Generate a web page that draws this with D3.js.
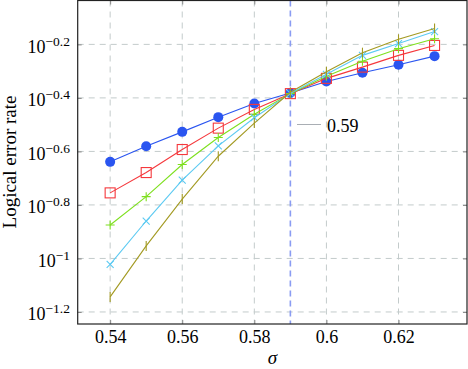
<!DOCTYPE html>
<html>
<head>
<meta charset="utf-8">
<script src="https://cdn.jsdelivr.net/npm/d3@7"></script>
<style>
  body { margin: 0; background: #fff; }
</style>
</head>
<body>
<svg></svg>
<script>
const width = 468;
const height = 369;
const margin = { left: 77.7, right: 1, top: 0.5, bottom: 45 };
const serif = "'Liberation Serif', 'Times New Roman', serif";

// sigma values
const sigma = [0.54, 0.55, 0.56, 0.57, 0.58, 0.59, 0.60, 0.61, 0.62, 0.63];

// logical error rates for each series
const blueVals  = [0.2296, 0.2624, 0.2972, 0.3373, 0.3793, 0.4150, 0.4581, 0.4943, 0.5297, 0.5702];
const redVals   = [0.1758, 0.2094, 0.2553, 0.3069, 0.3606, 0.4130, 0.4710, 0.5188, 0.5741, 0.6252];
const greenVals = [0.1334, 0.1702, 0.2244, 0.2831, 0.3459, 0.4130, 0.4797, 0.5458, 0.6081, 0.6622];
const cyanVals  = [0.0951, 0.1380, 0.1963, 0.2636, 0.3357, 0.4140, 0.4875, 0.5741, 0.6353, 0.7047];
const oliveVals = [0.0718, 0.1114, 0.1667, 0.2410, 0.3206, 0.4178, 0.4989, 0.5875, 0.6592, 0.7228];

const xTicks = [0.54, 0.56, 0.58, 0.6, 0.62];
const xTickLabels = ["0.54", "0.56", "0.58", "0.6", "0.62"];
const yTickExp = [-0.2, -0.4, -0.6, -0.8, -1, -1.2];
const yTickLabels = ["\u22120.2", "\u22120.4", "\u22120.6", "\u22120.8", "\u22121", "\u22121.2"];

const threshold = 0.59;
const legendLabel = "0.59";

const series = [
  { vals: blueVals,  color: "#2a55f0", marker: "circle" },
  { vals: redVals,   color: "#f5383c", marker: "square" },
  { vals: greenVals, color: "#7ee01e", marker: "plus" },
  { vals: cyanVals,  color: "#5ccaf2", marker: "cross" },
  { vals: oliveVals, color: "#a39a22", marker: "bar" }
];

const svg = d3.select("svg").attr("width", width).attr("height", height)
  .attr("font-family", serif);

const x = d3.scaleLinear()
  .domain([0.531, 0.639])
  .range([margin.left, width - margin.right]);

const y = d3.scaleLog()
  .domain([Math.pow(10, -1.245), Math.pow(10, -0.036)])
  .range([height - margin.bottom, margin.top]);

const plotTop = margin.top;
const plotBottom = height - margin.bottom;
const plotLeft = margin.left;
const plotRight = width - margin.right;

// grid
const grid = svg.append("g");
grid.selectAll(".vg").data(xTicks).enter().append("line")
  .attr("x1", d => x(d)).attr("x2", d => x(d))
  .attr("y1", plotTop).attr("y2", plotBottom)
  .attr("stroke", "#c3cbcb").attr("stroke-width", 1).attr("stroke-dasharray", "6,5");
grid.selectAll(".hg").data(yTickExp).enter().append("line")
  .attr("x1", plotLeft).attr("x2", plotRight)
  .attr("y1", d => y(Math.pow(10, d))).attr("y2", d => y(Math.pow(10, d)))
  .attr("stroke", "#c3cbcb").attr("stroke-width", 1).attr("stroke-dasharray", "6,5");

// axes
const xAxis = d3.axisBottom(x).tickValues(xTicks).tickSize(-4)
  .tickFormat((d, i) => xTickLabels[i]);
const gx = svg.append("g").attr("transform", "translate(0," + plotBottom + ")").call(xAxis)
  .attr("font-family", serif).attr("font-size", 18);
gx.select(".domain").remove();
gx.selectAll("line").attr("stroke", "#888");
gx.selectAll("text").attr("dy", "0.9em").attr("fill", "#000");

const xAxisTop = d3.axisTop(x).tickValues(xTicks).tickSize(-4).tickFormat("");
const gxt = svg.append("g").attr("transform", "translate(0," + plotTop + ")").call(xAxisTop);
gxt.select(".domain").remove();
gxt.selectAll("line").attr("stroke", "#888");

const yAxis = d3.axisLeft(y).tickValues(yTickExp.map(e => Math.pow(10, e))).tickSize(-4).tickFormat("");
const gy = svg.append("g").attr("transform", "translate(" + plotLeft + ",0)").call(yAxis);
gy.select(".domain").remove();
gy.selectAll("line").attr("stroke", "#888");

const yAxisR = d3.axisRight(y).tickValues(yTickExp.map(e => Math.pow(10, e))).tickSize(-4).tickFormat("");
const gyr = svg.append("g").attr("transform", "translate(" + plotRight + ",0)").call(yAxisR);
gyr.select(".domain").remove();
gyr.selectAll("line").attr("stroke", "#888");

// y tick labels 10^e
const yl = svg.append("g").attr("font-family", serif)
  .selectAll("text").data(yTickExp).enter().append("text")
  .attr("x", 70).attr("y", d => y(Math.pow(10, d)) + 8.5)
  .attr("text-anchor", "end");
yl.append("tspan").attr("font-size", 18).text("10");
yl.append("tspan").attr("dy", -7).attr("font-size", 13.5).text((d, i) => yTickLabels[i]);

// threshold line
svg.append("line")
  .attr("x1", x(threshold)).attr("x2", x(threshold))
  .attr("y1", plotTop).attr("y2", plotBottom)
  .attr("stroke", "#8a9cf2").attr("stroke-width", 1.6).attr("stroke-dasharray", "6,4");

// series
const line = d3.line().x(d => x(d[0])).y(d => y(d[1]));

series.forEach(s => {
  const pts = sigma.map((v, i) => [v, s.vals[i]]);
  const g = svg.append("g");
  g.append("path").datum(pts).attr("d", line)
    .attr("fill", "none").attr("stroke", s.color).attr("stroke-width", 1.1);
  const m = g.selectAll(".m").data(pts).enter().append("g")
    .attr("transform", d => "translate(" + x(d[0]) + "," + y(d[1]) + ")");
  if (s.marker === "circle") {
    m.append("circle").attr("r", 5).attr("fill", s.color);
  } else if (s.marker === "square") {
    m.append("rect").attr("x", -5).attr("y", -5).attr("width", 10).attr("height", 10)
      .attr("fill", "none").attr("stroke", s.color).attr("stroke-width", 1.1);
  } else if (s.marker === "plus") {
    m.append("path").attr("d", "M-4.5,0H4.5M0,-4.5V4.5")
      .attr("stroke", s.color).attr("stroke-width", 1.1);
  } else if (s.marker === "cross") {
    m.append("path").attr("d", "M-3.5,-3.5L3.5,3.5M-3.5,3.5L3.5,-3.5")
      .attr("stroke", s.color).attr("stroke-width", 1.1);
  } else {
    m.append("path").attr("d", "M0,-5V5")
      .attr("stroke", s.color).attr("stroke-width", 1.1);
  }
});

// legend
svg.append("line").attr("x1", 297).attr("x2", 321).attr("y1", 124.5).attr("y2", 124.5)
  .attr("stroke", "#a9aeb4").attr("stroke-width", 1);
svg.append("text").attr("x", 327).attr("y", 131.5).attr("font-size", 18).text(legendLabel);

// frame
svg.append("rect")
  .attr("x", plotLeft).attr("y", plotTop)
  .attr("width", plotRight - plotLeft).attr("height", plotBottom - plotTop)
  .attr("fill", "none").attr("stroke", "#222").attr("stroke-width", 1.2);

// axis labels
svg.append("text").attr("x", (plotLeft + plotRight) / 2).attr("y", 364)
  .attr("text-anchor", "middle").attr("font-size", 19).attr("font-style", "italic")
  .text("\u03c3");
svg.append("text")
  .attr("transform", "translate(16," + (plotBottom / 2) + ") rotate(-90)")
  .attr("text-anchor", "middle").attr("font-size", 19)
  .text("Logical error rate");
</script>
</body>
</html>
